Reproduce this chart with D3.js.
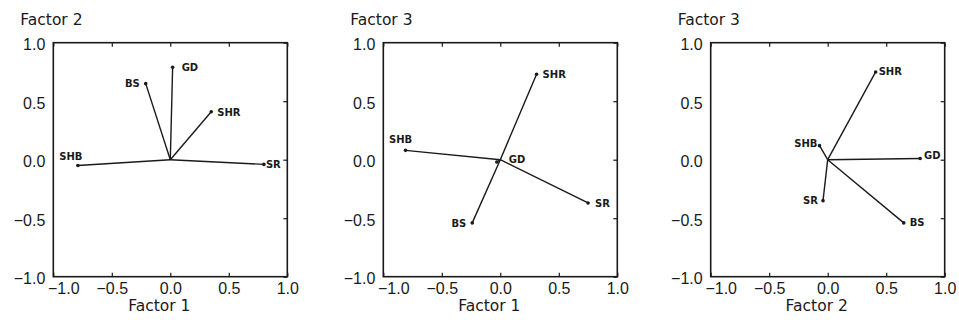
<!DOCTYPE html>
<html>
<head>
<meta charset="utf-8">
<script src="https://cdn.jsdelivr.net/npm/d3@7/dist/d3.min.js"></script>
<style>
  body { margin: 0; background: #fff; }
  svg { font-family: "DejaVu Sans", sans-serif; }
</style>
</head>
<body>
<svg width="959" height="320"></svg>
<script>
// variaveis (pontos de cada painel, na mesma ordem)
const variaveis = ['GD', 'BS', 'SHR', 'SHB', 'SR'];
const tickValores = [-1.0, -0.5, 0.0, 0.5, 1.0];

// painel 1: Factor 1 x Factor 2
const painel1X = [0.02, -0.21, 0.35, -0.79, 0.80];
const painel1Y = [0.79, 0.65, 0.41, -0.05, -0.04];
// painel 2: Factor 1 x Factor 3
const painel2X = [-0.03, -0.24, 0.31, -0.81, 0.75];
const painel2Y = [-0.02, -0.54, 0.73, 0.08, -0.37];
// painel 3: Factor 2 x Factor 3
const painel3X = [0.79, 0.65, 0.41, -0.07, -0.04];
const painel3Y = [0.01, -0.54, 0.75, 0.12, -0.35];

const titulosX = ['Factor 1', 'Factor 1', 'Factor 2'];
const titulosY = ['Factor 2', 'Factor 3', 'Factor 3'];

// posicao dos rotulos em relacao ao ponto: [dx, dy, ancora]
const rotulos = [
    { GD: [9, 3.5, 'start'], BS: [-6, 3, 'end'], SHR: [6, 4, 'start'], SHB: [-7, -6, 'middle'], SR: [2, 3.5, 'start'] },
    { GD: [12, 1, 'start'], BS: [-6, 4, 'end'], SHR: [6, 4, 'start'], SHB: [-5, -7, 'middle'], SR: [7, 4, 'start'] },
    { GD: [4, 0, 'start'], BS: [6, 3.5, 'start'], SHR: [3, 3.5, 'start'], SHB: [-2, 1, 'end'], SR: [-5, 3.5, 'end'] }
];

const dados = [
    { xs: painel1X, ys: painel1Y },
    { xs: painel2X, ys: painel2Y },
    { xs: painel3X, ys: painel3Y }
];

const svg = d3.select('svg');
const lados = [53.3, 383.3, 710.7];
const topo = 42.7;
const tam = 234;
const cor = '#1a1a1a';

const x = d3.scaleLinear().domain([-1, 1]).range([0, tam]);
const y = d3.scaleLinear().domain([-1, 1]).range([tam, 0]);
const fmt = d3.format('.1f');

dados.forEach((painel, i) => {
    const g = svg.append('g')
        .attr('transform', `translate(${lados[i]},${topo})`);

    // eixo esquerdo (so rotulos)
    const eixoY = g.append('g')
        .call(d3.axisLeft(y).tickValues(tickValores).tickSize(0).tickPadding(8).tickFormat(fmt));
    eixoY.selectAll('text').attr('y', 2);

    // eixo de baixo
    const eixoX = g.append('g')
        .attr('transform', `translate(0,${tam})`)
        .call(d3.axisBottom(x).tickValues(tickValores).tickSize(-4).tickPadding(6).tickFormat(fmt));
    eixoX.selectAll('text').filter(d => d === -1).attr('x', 10);

    // marcas de cima e da direita
    g.append('g').call(d3.axisTop(x).tickValues(tickValores).tickSize(-4).tickFormat(''));
    g.append('g')
        .attr('transform', `translate(${tam},0)`)
        .call(d3.axisRight(y).tickValues(tickValores).tickSize(-4).tickFormat(''));

    g.selectAll('.domain').remove();
    g.selectAll('.tick line').attr('stroke', cor).attr('stroke-width', 1.2);
    g.selectAll('.tick text')
        .attr('fill', cor)
        .style('font-size', '16px');

    g.append('rect')
        .attr('width', tam)
        .attr('height', tam)
        .attr('fill', 'none')
        .attr('stroke', cor)
        .attr('stroke-width', 1.6);

    // titulos
    g.append('text')
        .attr('x', -33)
        .attr('y', 25 - topo)
        .attr('fill', cor)
        .style('font-size', '15.5px')
        .text(titulosY[i]);

    g.append('text')
        .attr('x', tam / 2 - 11)
        .attr('y', 311 - topo)
        .attr('text-anchor', 'middle')
        .attr('fill', cor)
        .style('font-size', '15.5px')
        .text(titulosX[i]);

    const pontos = variaveis.map((nome, j) => ({ nome, vx: painel.xs[j], vy: painel.ys[j] }));

    // vetores a partir da origem
    g.selectAll('.vetor')
        .data(pontos)
        .join('line')
        .attr('class', 'vetor')
        .attr('x1', x(0))
        .attr('y1', y(0))
        .attr('x2', d => x(d.vx))
        .attr('y2', d => y(d.vy))
        .attr('stroke', cor)
        .attr('stroke-width', 1.4);

    g.selectAll('.ponto')
        .data(pontos)
        .join('circle')
        .attr('class', 'ponto')
        .attr('cx', d => x(d.vx))
        .attr('cy', d => y(d.vy))
        .attr('r', 1.8)
        .attr('fill', cor);

    g.selectAll('.rotulo')
        .data(pontos)
        .join('text')
        .attr('class', 'rotulo')
        .attr('x', d => x(d.vx) + rotulos[i][d.nome][0])
        .attr('y', d => y(d.vy) + rotulos[i][d.nome][1])
        .attr('text-anchor', d => rotulos[i][d.nome][2])
        .attr('fill', cor)
        .style('font-size', '10px')
        .style('font-weight', 'bold')
        .text(d => d.nome);
});
</script>
</body>
</html>
